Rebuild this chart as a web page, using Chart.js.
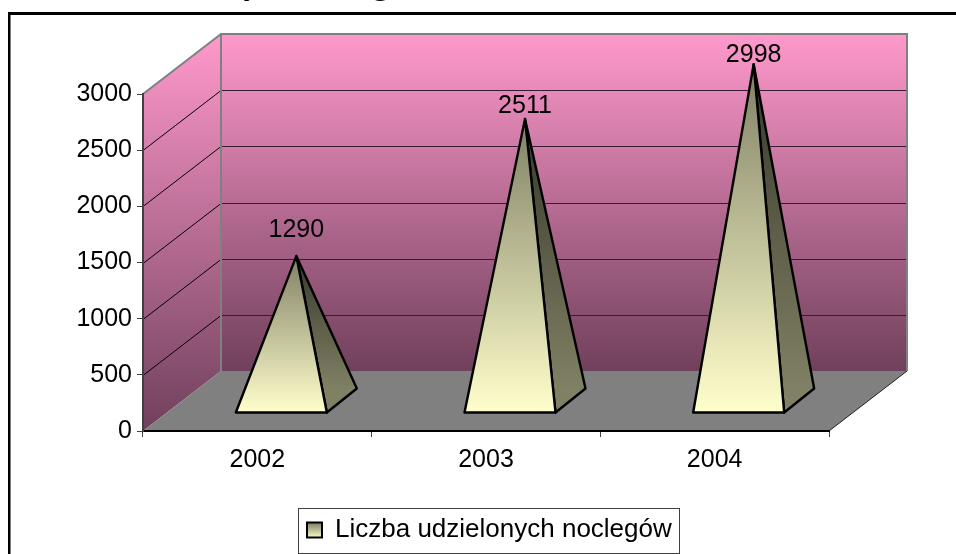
<!DOCTYPE html>
<html>
<head>
<meta charset="utf-8">
<title>Liczba udzielonych noclegów</title>
<script src="https://cdn.jsdelivr.net/npm/chart.js@4"></script>
<style>
  html, body { margin: 0; padding: 0; background: #fff; overflow: hidden; }
  canvas { display: block; }
</style>
</head>
<body>
<canvas id="chart" width="956" height="554"></canvas>
<script>
const years = ['2002', '2003', '2004'];
const nights = [1290, 2511, 2998];
const seriesName = 'Liczba udzielonych noclegów';
const yTicks = [0, 500, 1000, 1500, 2000, 2500, 3000];

const FONT = '"Liberation Sans", Arial, sans-serif';

// how far the back wall sits behind the axes, and the pyramid footprint
const wall = { dx: 78, dy: -60 };
const foot = { dx: 30, dy: -24, shiftX: 24, shiftY: -18 };
// value labels sit a different distance above each tip in the original
const labelLift = [26, 13, 9];

function poly(ctx, pts) {
  ctx.beginPath();
  pts.forEach((p, i) => (i ? ctx.lineTo(p[0], p[1]) : ctx.moveTo(p[0], p[1])));
  ctx.closePath();
}

function vGrad(ctx, y0, y1, c0, c1) {
  const g = ctx.createLinearGradient(0, y0, 0, y1);
  g.addColorStop(0, c0);
  g.addColorStop(1, c1);
  return g;
}

const scene3d = {
  id: 'scene3d',
  afterLayout(chart) {
    // legend sits off-centre in the original
    chart.legend.left = 298;
    chart.legend.right = 679;
  },
  beforeDraw(chart) {
    const { ctx, chartArea: a, scales: { y } } = chart;
    const bx = a.left + wall.dx, tx = a.right + wall.dx;
    const topY = a.top + wall.dy, botY = a.bottom + wall.dy;

    ctx.save();
    // outer frame
    ctx.fillStyle = '#000';
    ctx.fillRect(8, 12, 948, 3);
    ctx.fillRect(8, 12, 2.5, 542);

    // clipped heading above the frame
    ctx.font = 'bold 32.5px "Liberation Serif", serif';
    ctx.textAlign = 'left';
    ctx.textBaseline = 'alphabetic';
    ctx.fillText(seriesName, 24, -6);

    // walls
    poly(ctx, [[bx, topY], [tx, topY], [tx, botY], [bx, botY]]);
    ctx.fillStyle = vGrad(ctx, topY, botY, '#ff99cc', '#70405c');
    ctx.fill();
    poly(ctx, [[a.left, a.top], [bx, topY], [bx, botY], [a.left, a.bottom]]);
    ctx.fillStyle = vGrad(ctx, topY, a.bottom, '#ff99cc', '#70405c');
    ctx.fill();
    // floor
    poly(ctx, [[a.left, a.bottom], [a.right, a.bottom], [tx, botY], [bx, botY]]);
    ctx.fillStyle = '#808080';
    ctx.fill();

    // grid lines wrap round both walls
    ctx.lineWidth = 1;
    y.ticks.forEach(t => {
      if (t.value === 0 || t.value === 3000) return;
      const py = Math.round(y.getPixelForValue(t.value)) + 0.5;
      ctx.strokeStyle = '#000';
      ctx.beginPath();
      ctx.moveTo(a.left, py);
      ctx.lineTo(bx, py + wall.dy);
      ctx.stroke();
      ctx.strokeStyle = '#3a1c32';
      ctx.beginPath();
      ctx.moveTo(bx, py + wall.dy);
      ctx.lineTo(tx, py + wall.dy);
      ctx.stroke();
    });

    // wall edges
    ctx.strokeStyle = '#808080';
    ctx.lineWidth = 2;
    ctx.beginPath();
    ctx.moveTo(a.left, a.top);
    ctx.lineTo(bx, topY);
    ctx.lineTo(tx, topY);
    ctx.lineTo(tx, botY);
    ctx.moveTo(bx, topY);
    ctx.lineTo(bx, botY);
    ctx.stroke();
    ctx.strokeStyle = '#202020';
    ctx.lineWidth = 1;
    ctx.beginPath();
    ctx.moveTo(a.right, a.bottom);
    ctx.lineTo(tx, botY);
    ctx.stroke();

    // legend frame
    const lg = chart.legend;
    ctx.strokeStyle = '#404040';
    ctx.lineWidth = 1;
    ctx.strokeRect(298.5, lg.top + 0.5, 381, lg.height);
    ctx.restore();
  },
  afterDatasetsDraw(chart) {
    const { ctx } = chart;
    const bars = chart.getDatasetMeta(0).data;
    ctx.save();
    ctx.lineJoin = 'round';
    bars.forEach((bar, i) => {
      const left = bar.x + foot.shiftX - bar.width / 2;
      const right = left + bar.width;
      const baseY = bar.base + foot.shiftY;
      const tip = [bar.x + foot.shiftX + foot.dx / 2, bar.y + foot.shiftY + foot.dy / 2];
      const back = [right + foot.dx, baseY + foot.dy];

      poly(ctx, [[right, baseY], back, tip]);
      ctx.fillStyle = vGrad(ctx, tip[1], back[1], '#38382c', '#808064');
      ctx.fill();
      ctx.strokeStyle = '#000';
      ctx.lineWidth = 2.4;
      ctx.stroke();

      poly(ctx, [[left, baseY], [right, baseY], tip]);
      ctx.fillStyle = vGrad(ctx, tip[1], baseY, '#808066', '#ffffcc');
      ctx.fill();
      ctx.stroke();

      ctx.fillStyle = '#000';
      ctx.font = '25px ' + FONT;
      ctx.textAlign = 'center';
      ctx.textBaseline = 'middle';
      ctx.fillText(String(nights[i]), tip[0], tip[1] - labelLift[i]);
    });
    ctx.restore();
  }
};

new Chart(document.getElementById('chart'), {
  type: 'bar',
  data: {
    labels: years,
    datasets: [{
      label: seriesName,
      data: nights,
      backgroundColor: 'rgba(0,0,0,0)',
      borderWidth: 0,
      barPercentage: 0.398,
      categoryPercentage: 1
    }]
  },
  plugins: [scene3d],
  options: {
    responsive: false,
    animation: false,
    layout: { padding: { left: 0, right: 127, top: 94, bottom: 1 } },
    plugins: {
      tooltip: { enabled: false },
      legend: {
        position: 'bottom',
        align: 'start',
        labels: {
          color: '#000',
          font: { size: 26, family: FONT },
          boxWidth: 15,
          boxHeight: 15,
          padding: 9,
          generateLabels(chart) {
            return [{
              text: seriesName,
              fillStyle: vGrad(chart.ctx, 523, 538, '#808066', '#ffffcc'),
              strokeStyle: '#000',
              lineWidth: 2,
              fontColor: '#000',
              datasetIndex: 0
            }];
          }
        }
      }
    },
    scales: {
      x: {
        afterFit(s) { s.height = 77; },
        grid: { drawOnChartArea: false, tickLength: 6, tickColor: '#404040' },
        border: { color: '#000', width: 2 },
        ticks: { color: '#000', padding: 8, font: { size: 25, family: FONT } }
      },
      y: {
        min: 0,
        max: 3000,
        afterFit(s) { s.width = 143; },
        afterBuildTicks(s) { s.ticks = yTicks.map(value => ({ value })); },
        grid: { drawOnChartArea: false, tickLength: 6, tickColor: '#404040' },
        border: { color: '#404040', width: 2 },
        ticks: {
          color: '#000',
          padding: 5,
          font: { size: 25, family: FONT },
          callback: value => String(value)
        }
      }
    }
  }
});
</script>
</body>
</html>
